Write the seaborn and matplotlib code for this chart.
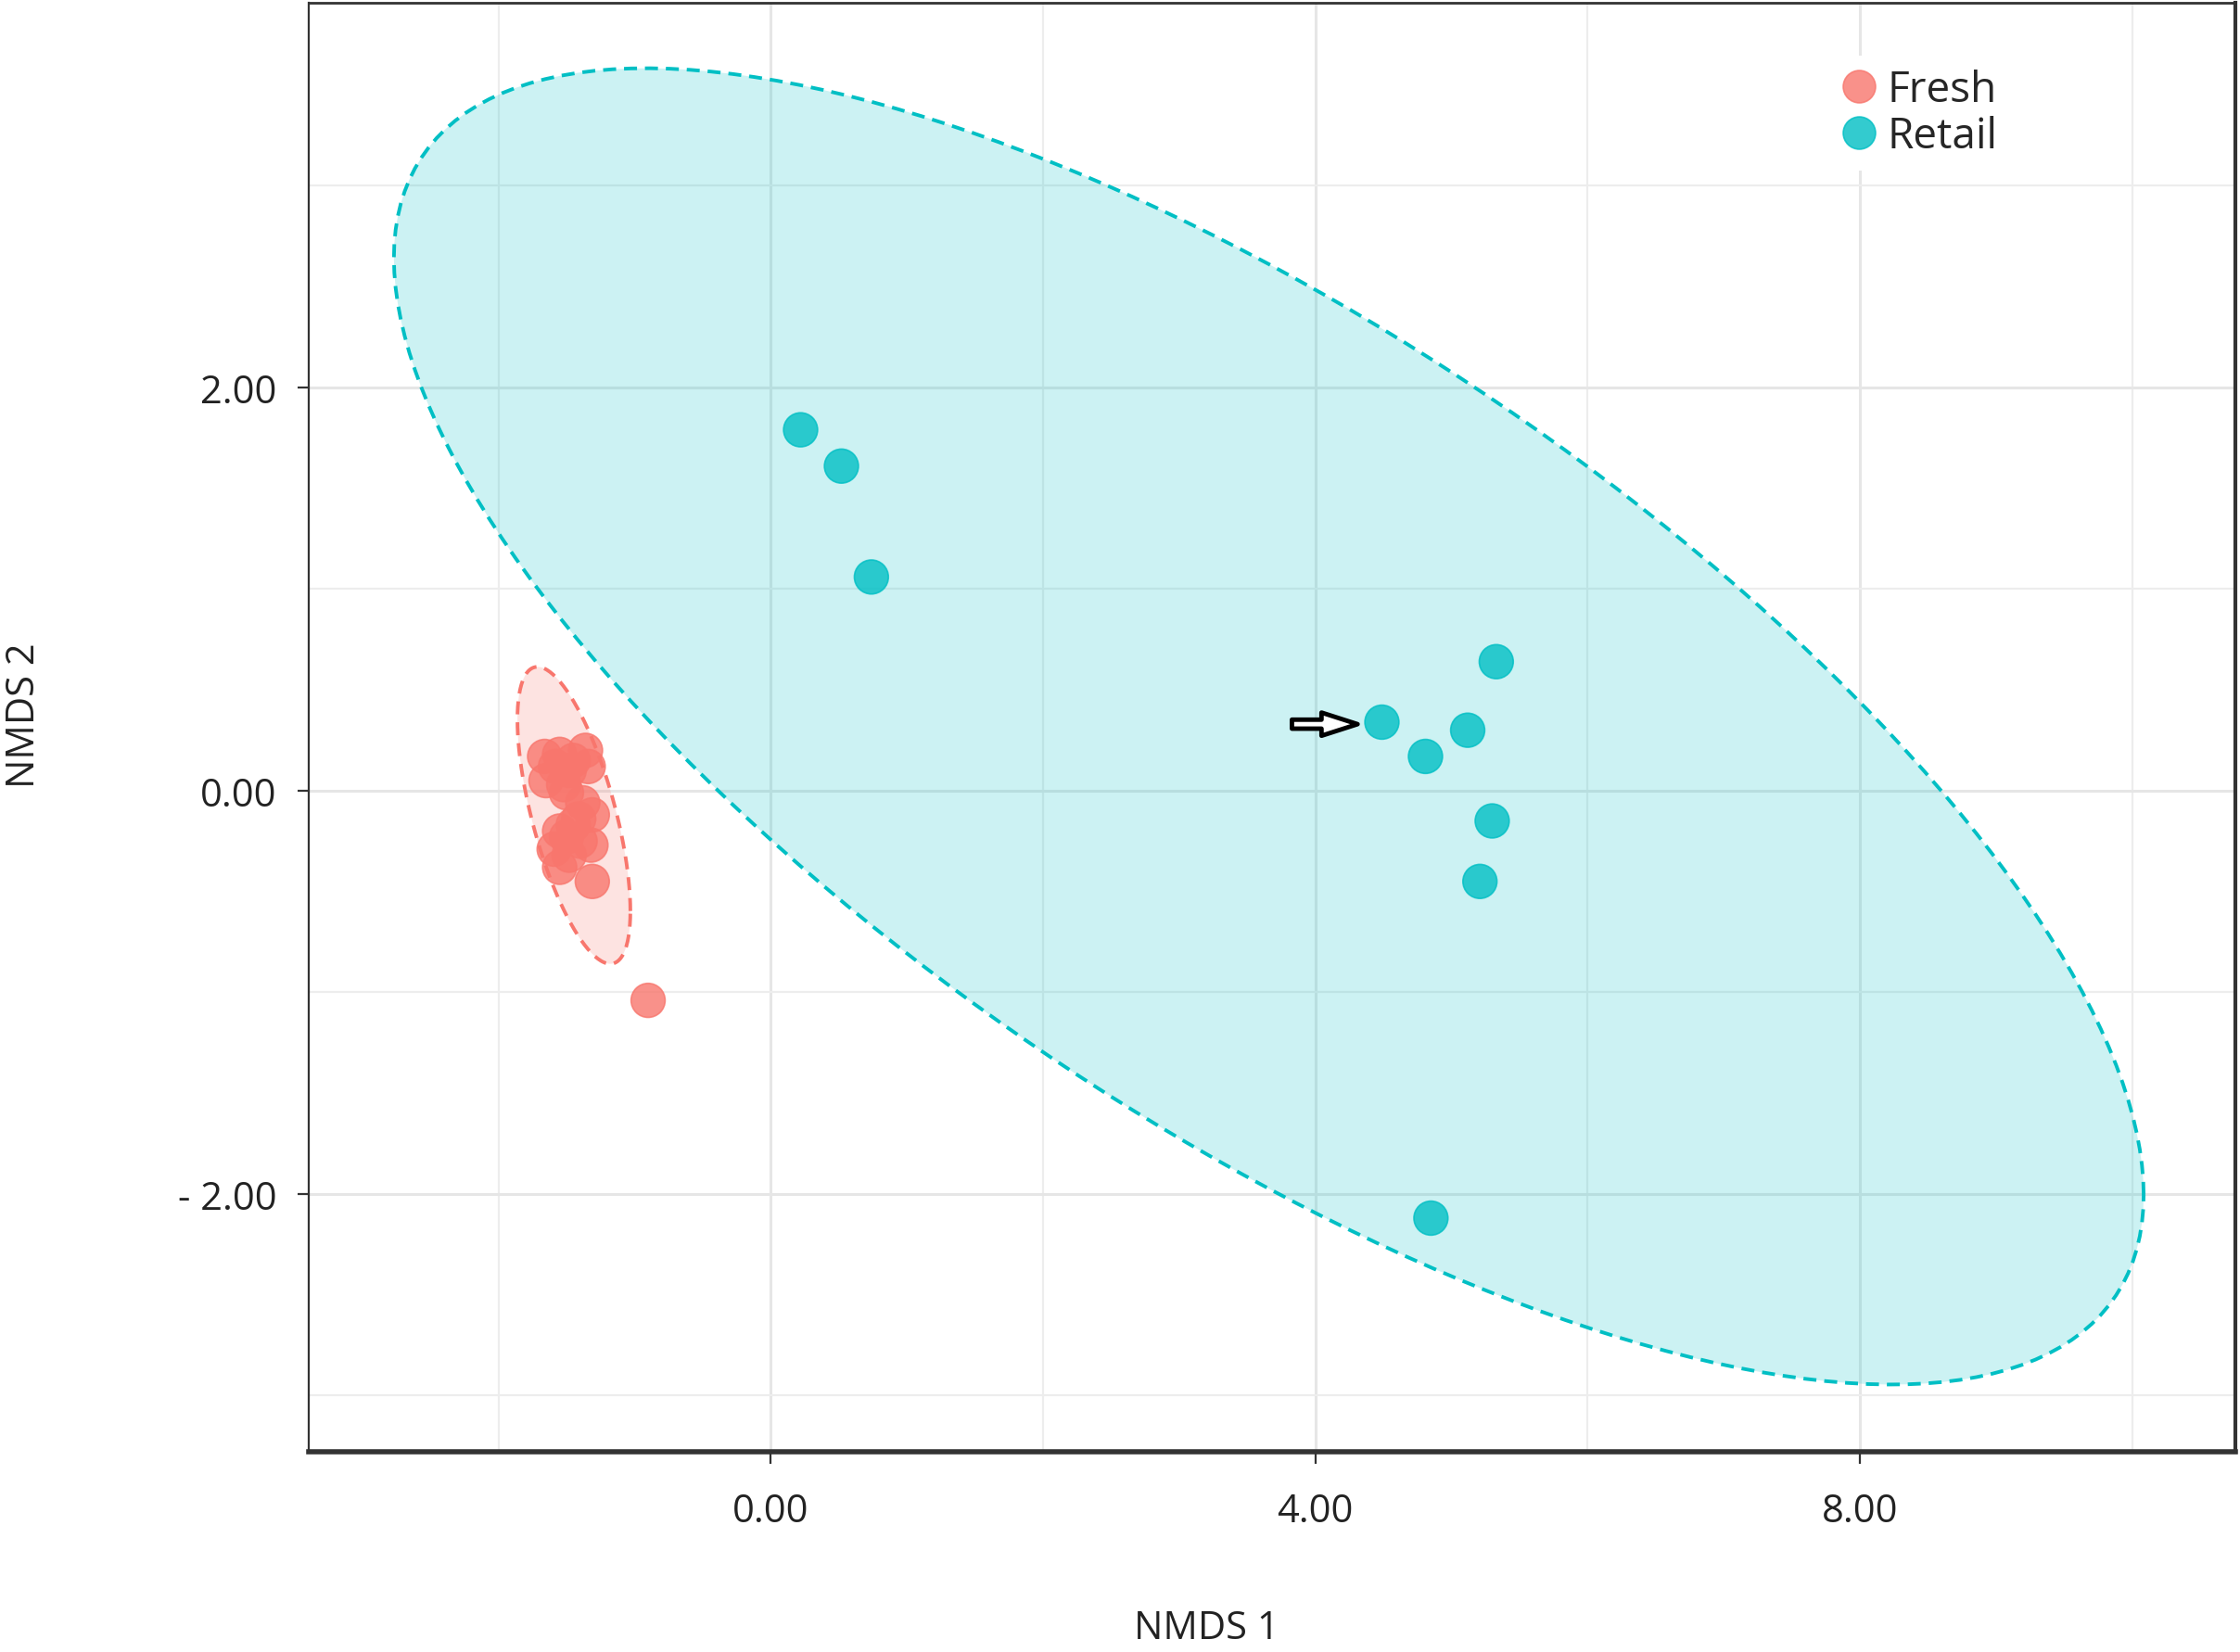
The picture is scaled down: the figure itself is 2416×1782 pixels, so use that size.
import numpy as np
import pandas as pd
import matplotlib
matplotlib.use("Agg")
import matplotlib.pyplot as plt
import seaborn as sns

# ── Data (NMDS scores) ─────────────────────────────
fresh_x = [-1.66, -1.55, -1.36, -1.34, -1.48, -1.65, -1.50, -1.41,
           -1.45, -1.31, -1.50, -1.59, -1.55, -1.32, -1.31, -0.90,
           -1.58, -1.45, -1.52, -1.40, -1.48, -1.38, -1.55]
fresh_y = [0.17, 0.18, 0.20, 0.12, 0.10, 0.05, -0.01, -0.14,
           -0.17, -0.12, -0.23, -0.29, -0.38, -0.27, -0.45, -1.04,
           0.12, 0.15, 0.03, -0.25, -0.32, -0.06, -0.20]
retail_x = [0.22, 0.52, 0.74, 5.33, 4.49, 5.12, 4.81, 5.30, 5.21, 4.85]
retail_y = [1.79, 1.61, 1.06, 0.64, 0.34, 0.30, 0.17, -0.15, -0.45, -2.12]

groups  = ["Fresh", "Retail"]
palette = {"Fresh": "#F8766D", "Retail": "#00BFC4"}

x_ticks  = [0, 4, 8]
x_labels = ["0.00", "4.00", "8.00"]
y_ticks  = [-2, 0, 2]
y_labels = ["- 2.00", "0.00", "2.00"]
x_minor  = [-2, 2, 6, 10]
y_minor  = [-3, -1, 1, 3]

ARROW_POINT = 4   # index of the retail sample marked with the arrow

df = pd.DataFrame({
    "NMDS1": fresh_x + retail_x,
    "NMDS2": fresh_y + retail_y,
    "Group": ["Fresh"] * len(fresh_x) + ["Retail"] * len(retail_x),
})


# ── 95% ellipse (like ggplot2 stat_ellipse(type="norm")) ──
def ellipse_path(xs, ys, level=0.95, segments=200):
    pts = np.column_stack([xs, ys])
    center = pts.mean(axis=0)
    shape = np.cov(pts, rowvar=False)
    dfd = len(pts) - 1
    qf = dfd / 2 * ((1 - level) ** (-2 / dfd) - 1)   # F(2, dfd) quantile
    radius = np.sqrt(2 * qf)
    ang = np.linspace(0, 2 * np.pi, segments + 1)
    circle = np.column_stack([np.cos(ang), np.sin(ang)])
    L = np.linalg.cholesky(shape)
    return center + radius * circle @ L.T


# ── Plot ───────────────────────────────────────────
sns.set_style("white")
plt.rcParams["font.family"] = ["Open Sans", "DejaVu Sans"]

fig, ax = plt.subplots(figsize=(24.16, 17.83), dpi=100)
fig.subplots_adjust(left=0.138, right=0.998, top=0.998, bottom=0.121)

for g, xs, ys in [("Fresh", fresh_x, fresh_y), ("Retail", retail_x, retail_y)]:
    e = ellipse_path(xs, ys)
    ax.fill(e[:, 0], e[:, 1], color=palette[g], alpha=0.2, lw=0, zorder=2)
    ax.plot(e[:, 0], e[:, 1], color=palette[g], lw=2.8, ls=(0, (3.6, 2.2)),
            zorder=3)

sns.scatterplot(data=df, x="NMDS1", y="NMDS2", hue="Group",
                hue_order=groups, palette=palette, s=700, alpha=0.8,
                edgecolor="face", linewidth=1.2, ax=ax, zorder=4)

# arrow pointing at one retail sample
tx, ty = retail_x[ARROW_POINT], retail_y[ARROW_POINT]
ax.annotate("", xy=(tx - 0.16, ty - 0.01), xytext=(tx - 0.68, ty - 0.01),
            arrowprops=dict(arrowstyle="simple,head_length=1.4,head_width=0.9,"
                                       "tail_width=0.35",
                            fc="white", ec="black", lw=3.5,
                            mutation_scale=20),
            zorder=5)

ax.set_xlim(-3.39, 10.76)
ax.set_ylim(-3.28, 3.91)
ax.set_xticks(x_ticks)
ax.set_xticklabels(x_labels)
ax.set_yticks(y_ticks)
ax.set_yticklabels(y_labels)
ax.set_xticks(x_minor, minor=True)
ax.set_yticks(y_minor, minor=True)

ax.grid(True, which="major", color="#E6E6E6", lw=2.2, zorder=0)
ax.grid(True, which="minor", color="#EDEDED", lw=1.6, zorder=0)
ax.set_axisbelow(True)

ax.tick_params(axis="both", which="major", length=9, width=1.6,
               color="#333333", labelsize=30, labelcolor="#222222",
               direction="out", bottom=True, left=True)
ax.tick_params(axis="x", which="major", pad=22)
ax.tick_params(axis="y", which="major", pad=16)
ax.tick_params(which="minor", length=0)

for side, lw in [("left", 1.6), ("bottom", 4), ("top", 2), ("right", 3)]:
    ax.spines[side].set_visible(True)
    ax.spines[side].set_color("#333333")
    ax.spines[side].set_linewidth(lw)

ax.set_xlabel("NMDS 1", fontsize=30, color="#222222")
ax.set_ylabel("NMDS 2", fontsize=30, color="#222222")
ax.xaxis.set_label_coords(0.466, -0.108)
ax.yaxis.set_label_coords(-0.138, 0.509)

leg = ax.legend(title=None, loc="upper left", bbox_to_anchor=(0.765, 0.978),
                frameon=True, fontsize=33, handletextpad=-0.35,
                labelspacing=0.1, borderpad=0.3, markerscale=0.95)
leg.get_frame().set_facecolor("white")
leg.get_frame().set_edgecolor("none")
leg.get_frame().set_alpha(1)

plt.savefig("out.png", dpi=100)
plt.close()
